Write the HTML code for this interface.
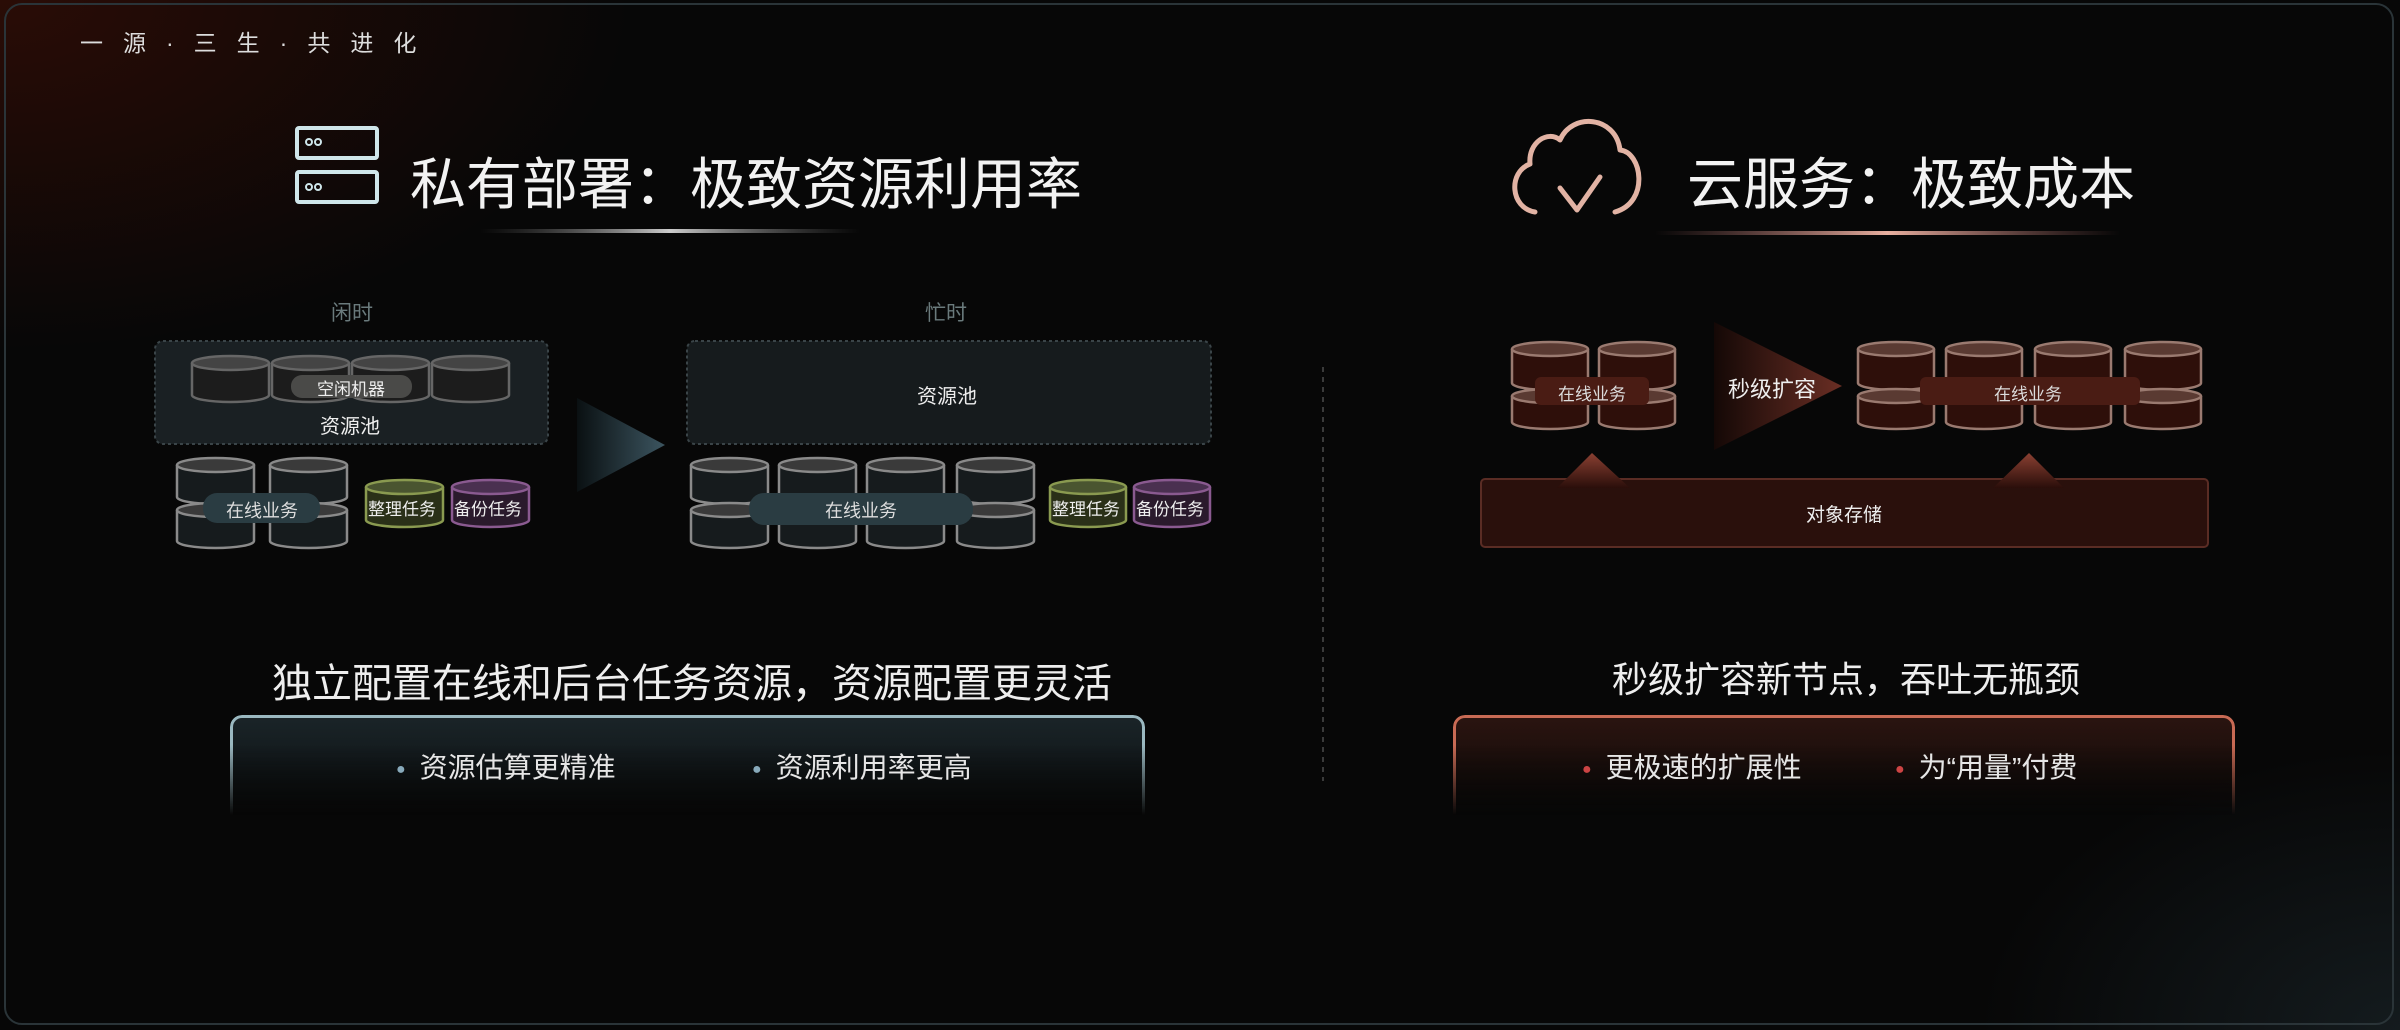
<!DOCTYPE html>
<html><head><meta charset="utf-8"><style>
html,body{margin:0;padding:0;background:#000;}
#c{position:relative;width:2400px;height:1030px;overflow:hidden;font-family:"Liberation Sans","Noto Sans CJK SC",sans-serif;color:#eee;
background:radial-gradient(ellipse 900px 500px at 0% 0%,#2a0c06 0%,rgba(0,0,0,0) 70%),radial-gradient(ellipse 600px 400px at 100% 100%,#141b1e 0%,rgba(0,0,0,0) 70%),#070707;}
#frame{position:absolute;left:4px;top:3px;width:2390px;height:1022px;border:2px solid #2a3438;border-radius:18px;box-sizing:border-box;}
.t{position:absolute;white-space:nowrap;}
.box{position:absolute;border:3px solid;border-bottom:none;border-radius:12px 12px 0 0;box-sizing:border-box;
-webkit-mask-image:linear-gradient(to bottom,#000 30%,transparent 100%);mask-image:linear-gradient(to bottom,#000 30%,transparent 100%);}
</style></head><body><div id="c">
<div id="frame"></div>
<div class="t" style="left:80px;top:24px;font-size:23px;letter-spacing:20px;color:#ddd;">一源·三生·共进化</div>

<svg width="2400" height="1030" style="position:absolute;left:0;top:0" id="s">
<defs>
<linearGradient id="ul" x1="0" x2="1"><stop offset="0" stop-color="#666" stop-opacity="0"/><stop offset=".5" stop-color="#ccc"/><stop offset="1" stop-color="#666" stop-opacity="0"/></linearGradient>
<linearGradient id="ur" x1="0" x2="1"><stop offset="0" stop-color="#a66" stop-opacity="0"/><stop offset=".5" stop-color="#e9b0a0"/><stop offset="1" stop-color="#a66" stop-opacity="0"/></linearGradient>
<linearGradient id="al" x1="0" x2="1"><stop offset="0" stop-color="#0a1012"/><stop offset="1" stop-color="#3c5560"/></linearGradient>
<linearGradient id="ar" x1="0" x2="1"><stop offset="0" stop-color="#140806"/><stop offset="1" stop-color="#6a2e24"/></linearGradient>
<linearGradient id="tr" x1="0" y1="0" x2="0" y2="1"><stop offset="0" stop-color="#8a4032"/><stop offset="1" stop-color="#2a0e0a"/></linearGradient>
</defs>
<g fill="none" stroke="#cfe6ea" stroke-width="4">
<rect x="297" y="128" width="80" height="30" rx="2"/><rect x="297" y="172" width="80" height="30" rx="2"/>
<circle cx="309" cy="142" r="3" stroke-width="2"/><circle cx="318" cy="142" r="3" stroke-width="2"/>
<circle cx="309" cy="187" r="3" stroke-width="2"/><circle cx="318" cy="187" r="3" stroke-width="2"/>
</g>
<rect x="480" y="229" width="380" height="4" fill="url(#ul)"/>
<g fill="none" stroke="#e2b3a4" stroke-width="5" stroke-linecap="round" stroke-linejoin="round" transform="translate(0,12)">
<path d="M1535,200 C1510,196 1508,160 1530,152 C1528,130 1548,118 1560,128 C1572,100 1616,104 1620,138 C1642,140 1650,190 1615,200"/>
<path d="M1560,176 L1577,198 L1600,165"/>
</g>
<rect x="1655" y="231" width="465" height="4" fill="url(#ur)"/>

<rect x="155" y="341" width="393" height="103" rx="8" fill="#1a2023" stroke="#3a4448" stroke-width="2" stroke-dasharray="3 3"/>
<rect x="687" y="341" width="524" height="103" rx="8" fill="#161b1d" stroke="#3a4448" stroke-width="2" stroke-dasharray="3 3"/>
<polygon points="577,398 665,445 577,492" fill="url(#al)"/>
<line x1="1323" y1="367" x2="1323" y2="781" stroke="#3a3a3a" stroke-width="2" stroke-dasharray="5 5"/>

<polygon points="1714,322 1842,386 1714,450" fill="url(#ar)"/>
<rect x="1481" y="479" width="727" height="68" rx="4" fill="#2a100c" stroke="#5a2c24" stroke-width="2"/>
<polygon points="1592,453 1557,488 1630,488" fill="url(#tr)"/>
<polygon points="2029,453 1993,488 2064,488" fill="url(#tr)"/>
<g id="cyls"></g>
<g id="pills">
<rect x="291" y="375" width="121" height="23" rx="11" fill="#4a4a48"/>
<rect x="203" y="493" width="117" height="30" rx="14" fill="#2a3c42"/>
<rect x="749" y="493" width="224" height="32" rx="15" fill="#2a3c42"/>
<rect x="1535" y="377" width="114" height="28" rx="6" fill="#4a1c14"/>
<rect x="1920" y="377" width="220" height="28" rx="6" fill="#4a1c14"/>
</g>
</svg>
<script>
(function(){
var g=document.getElementById('cyls'),out=[];
function cyl(x,y,w,h,fill,stroke,top){var r=7;
out.push('<path d="M'+x+','+(y+r)+' V'+(y+h-r)+' A'+(w/2)+','+r+' 0 0 0 '+(x+w)+','+(y+h-r)+' V'+(y+r)+'" fill="'+fill+'" stroke="'+stroke+'" stroke-width="2.5"/>');
out.push('<ellipse cx="'+(x+w/2)+'" cy="'+(y+r)+'" rx="'+(w/2)+'" ry="'+r+'" fill="'+top+'" stroke="'+stroke+'" stroke-width="2.5"/>');}
var G='#8a8a8a',F='#1c1c1c',T='#3a3a3a';
[192,272,352,432].forEach(function(x){cyl(x,356,77,46,F,'#666','#444');});
[177,270].forEach(function(x){cyl(x,458,77,46,'#161b1d',G,T);cyl(x,503,77,45,'#161b1d',G,T);});
[691,779,867,957].forEach(function(x){cyl(x,458,77,46,'#161b1d',G,T);cyl(x,503,77,45,'#161b1d',G,T);});
cyl(366,480,77,47,'#2a3018','#8a9a50','#4a5530');cyl(452,480,77,47,'#2a1a2c','#8a5a90','#4a3050');
cyl(1050,480,76,47,'#2a3018','#8a9a50','#4a5530');cyl(1134,480,76,47,'#2a1a2c','#8a5a90','#4a3050');
var RF='#2e0f0a',RS='#9a7a70',RT='#5a3a32';
[1512,1599,1858,1946,2035,2125].forEach(function(x){cyl(x,342,76,48,RF,RS,RT);cyl(x,389,76,40,RF,RS,RT);});
g.innerHTML=out.join('');
})();
</script>

<div class="t" style="left:410px;top:140px;font-size:56px;color:#f2f2f2;">私有部署：极致资源利用率</div>
<div class="t" style="left:1687px;top:140px;font-size:56px;color:#f2f2f2;">云服务：极致成本</div>

<div class="t" style="left:331px;top:297px;font-size:21px;color:#6a7a7c;">闲时</div>
<div class="t" style="left:925px;top:297px;font-size:21px;color:#6a7a7c;">忙时</div>
<div class="t" style="left:317px;top:375px;font-size:17px;color:#eee;">空闲机器</div>
<div class="t" style="left:320px;top:410px;font-size:20px;color:#eee;">资源池</div>
<div class="t" style="left:917px;top:380px;font-size:20px;color:#eee;">资源池</div>
<div class="t" style="left:226px;top:497px;font-size:18px;color:#ddd;">在线业务</div>
<div class="t" style="left:825px;top:497px;font-size:18px;color:#ddd;">在线业务</div>
<div class="t" style="left:368px;top:495px;font-size:17px;color:#eee;">整理任务</div>
<div class="t" style="left:454px;top:495px;font-size:17px;color:#eee;">备份任务</div>
<div class="t" style="left:1052px;top:495px;font-size:17px;color:#eee;">整理任务</div>
<div class="t" style="left:1136px;top:495px;font-size:17px;color:#eee;">备份任务</div>

<div class="t" style="left:1558px;top:380px;font-size:17px;color:#ddd;">在线业务</div>
<div class="t" style="left:1994px;top:380px;font-size:17px;color:#ddd;">在线业务</div>
<div class="t" style="left:1728px;top:372px;font-size:22px;color:#eee;">秒级扩容</div>
<div class="t" style="left:1806px;top:500px;font-size:19px;color:#eee;">对象存储</div>

<div class="t" style="left:272px;top:651px;font-size:40px;width:812px;text-align:center;color:#eee;">独立配置在线和后台任务资源，资源配置更灵活</div>
<div class="t" style="left:1612px;top:651px;font-size:36px;width:467px;text-align:center;color:#eee;">秒级扩容新节点，吞吐无瓶颈</div>

<div class="box" style="left:230px;top:715px;width:915px;height:100px;border-color:#9ab8c0;background:linear-gradient(#1a2428,#0a0d0e);"></div>
<div class="box" style="left:1453px;top:715px;width:782px;height:100px;border-color:#c86a54;background:linear-gradient(#2a1410,#0c0807);"></div>
<div class="t" style="left:396px;top:746px;font-size:28px;color:#e6e6e6;"><span style="color:#8ab;font-size:16px;vertical-align:middle;margin-right:14px">●</span>资源估算更精准</div>
<div class="t" style="left:752px;top:746px;font-size:28px;color:#e6e6e6;"><span style="color:#8ab;font-size:16px;vertical-align:middle;margin-right:14px">●</span>资源利用率更高</div>
<div class="t" style="left:1582px;top:746px;font-size:28px;color:#e6e6e6;"><span style="color:#c44;font-size:16px;vertical-align:middle;margin-right:14px">●</span>更极速的扩展性</div>
<div class="t" style="left:1895px;top:746px;font-size:28px;color:#e6e6e6;"><span style="color:#c44;font-size:16px;vertical-align:middle;margin-right:14px">●</span>为“用量”付费</div>
</div></body></html>
